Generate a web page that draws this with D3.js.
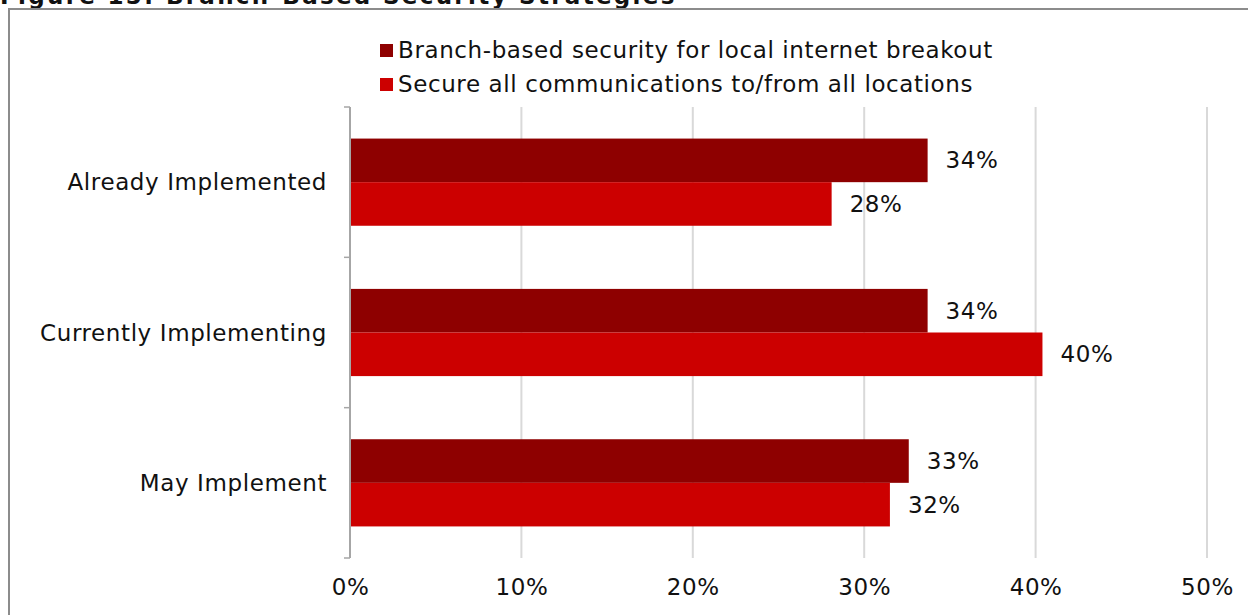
<!DOCTYPE html>
<html>
<head>
<meta charset="utf-8">
<script src="https://cdn.jsdelivr.net/npm/d3@7"></script>
<style>
  body { margin: 0; background: #fff; }
  svg { display: block; font-family: "DejaVu Sans", Verdana, sans-serif; }
</style>
</head>
<body>
<div id="screen"></div>
<script>
var categories = ["Already Implemented", "Currently Implementing", "May Implement"];
var seriesNames = ["Branch-based security for local internet breakout", "Secure all communications to/from all locations"];
var branchValues = [33.7, 33.7, 32.6];
var secureValues = [28.1, 40.4, 31.5];
var valueLabels = [["34%", "28%"], ["34%", "40%"], ["33%", "32%"]];
var xTicks = [0, 10, 20, 30, 40, 50];
var colors = ["#8e0000", "#cc0000"];

var width = 1248, height = 615;
var fontSize = "23px", spacing = "0.6px";
var svg = d3.select("#screen").append("svg").attr("width", width).attr("height", height);

// title, mostly cut off at the top
svg.append("text").attr("x", 0).attr("y", 4)
    .attr("font-size", "23px").attr("font-weight", "bold").attr("fill", "#111")
    .attr("letter-spacing", "2.3px")
    .text("Figure 15: Branch-Based Security Strategies");

// frame
svg.append("path").attr("d", "M9,616 V9 H1250")
    .attr("fill", "none").attr("stroke", "#8c8c8c").attr("stroke-width", 2);

var x = d3.scaleLinear().domain([0, 50]).range([350, 1207]);
var y = d3.scaleBand().domain(categories).range([107, 558]).paddingInner(0.42).paddingOuter(0.21);
var ySub = d3.scaleBand().domain([0, 1]).range([0, y.bandwidth()]);

// gridlines
svg.append("g").selectAll("line").data(xTicks.slice(1)).join("line")
    .attr("x1", d => x(d)).attr("x2", d => x(d))
    .attr("y1", 107).attr("y2", 558)
    .attr("stroke", "#d9d9d9").attr("stroke-width", 2);

var series = [branchValues, secureValues];
var bars = svg.append("g");
categories.forEach(function(c, i) {
    series.forEach(function(vals, s) {
        bars.append("rect")
            .attr("x", x(0)).attr("y", y(c) + ySub(s))
            .attr("width", x(vals[i]) - x(0)).attr("height", ySub.bandwidth())
            .attr("fill", colors[s]);
        bars.append("text")
            .attr("x", x(vals[i]) + 18).attr("y", y(c) + ySub(s) + ySub.bandwidth() / 2)
            .attr("dy", "0.35em").attr("font-size", fontSize).attr("letter-spacing", spacing)
            .attr("fill", "#111")
            .text(valueLabels[i][s]);
    });
});

// y axis
var yAxis = svg.append("g").attr("transform", "translate(350,0)");
yAxis.append("line").attr("x1", 0).attr("x2", 0).attr("y1", 107).attr("y2", 558)
    .attr("stroke", "#a6a6a6").attr("stroke-width", 2);
var edges = [107, y(categories[1]) - y.step() * y.paddingInner() / 2, y(categories[2]) - y.step() * y.paddingInner() / 2, 558];
yAxis.selectAll(".tk").data(edges).join("line")
    .attr("x1", -6).attr("x2", 0).attr("y1", d => d).attr("y2", d => d)
    .attr("stroke", "#a6a6a6").attr("stroke-width", 1.5);
yAxis.selectAll("text").data(categories).join("text")
    .attr("x", -23).attr("y", d => y(d) + y.bandwidth() / 2)
    .attr("dy", "0.35em").attr("text-anchor", "end")
    .attr("font-size", fontSize).attr("letter-spacing", spacing)
    .attr("fill", "#111").text(d => d);

// x axis labels
var xAxis = d3.axisBottom(x).tickValues(xTicks).tickSize(0).tickFormat(d => d + "%");
var gx = svg.append("g").attr("transform", "translate(0,576)").call(xAxis);
gx.select(".domain").remove();
gx.selectAll("text").attr("font-size", fontSize).attr("letter-spacing", spacing).attr("fill", "#111")
    .attr("font-family", "'DejaVu Sans', Verdana, sans-serif");

// legend
var legend = svg.append("g");
seriesNames.forEach(function(n, i) {
    legend.append("rect").attr("x", 380).attr("y", 44 + i * 34).attr("width", 13).attr("height", 13)
        .attr("fill", colors[i]);
    legend.append("text").attr("x", 398).attr("y", 50 + i * 34).attr("dy", "0.35em")
        .attr("font-size", fontSize).attr("letter-spacing", spacing)
        .attr("fill", "#111").text(n);
});
</script>
</body>
</html>
